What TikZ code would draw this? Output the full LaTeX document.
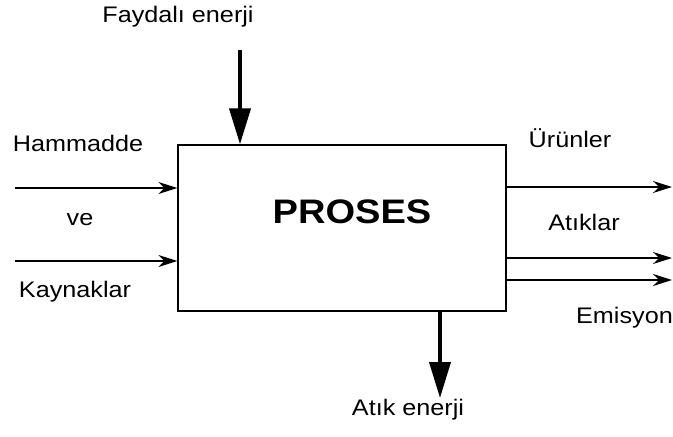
\documentclass[tikz,border=0pt]{standalone}
\usepackage{fontspec}
\setmainfont{Liberation Sans}[FakeStretch=1.12]
\usetikzlibrary{arrows.meta}

\begin{document}
\begin{tikzpicture}[x=1pt, y=-1pt,
        etiket/.style={font=\fontsize{22.5}{26}\selectfont, inner sep=0pt},
        kutu/.style={rectangle, draw, line width=1.3pt, minimum width=328pt, minimum height=166pt},
        akis/.style={line width=1.3pt, -{Stealth[length=19pt, width=12pt]}},
        enerji/.style={line width=3.8pt, -{Triangle[length=36pt, width=21pt]}}
    ]
        \useasboundingbox (0,0) rectangle (673,437);

        % Process box
        \node[kutu] (proses) at (342,228) {};
        \node[font=\fontsize{34}{38}\selectfont\bfseries] (baslik) at (352,212) {PROSES};

        % Labels
        \node[etiket] (faydali) at (178,17) {Faydalı enerji};
        \node[etiket] (hammadde) at (78,143) {Hammadde};
        \node[etiket] (ve) at (80,220) {ve};
        \node[etiket] (kaynaklar) at (75,292) {Kaynaklar};
        \node[etiket] (urunler) at (570,138) {Ürünler};
        \node[etiket] (atiklar) at (584,222) {Atıklar};
        \node[etiket, anchor=east] (emisyon) at (673,318) {Emisyon};
        \node[etiket] (atikenerji) at (408,410) {Atık enerji};

        % Free ends
        \coordinate (fayUst) at (240,50);
        \coordinate (atikAlt) at (440,398);
        \coordinate (hamSol) at (15,188);
        \coordinate (kaySol) at (15,261);
        \coordinate (urunSag) at (672,187);
        \coordinate (atikSag) at (672,258);
        \coordinate (emisSag) at (672,280);

        % Energy arrows
        \draw[enerji] (fayUst) -- (fayUst |- proses.north);
        \draw[enerji] (proses.south -| atikAlt) -- (atikAlt);

        % Inputs
        \draw[akis] (hamSol) -- (hamSol -| proses.west);
        \draw[akis] (kaySol) -- (kaySol -| proses.west);

        % Outputs
        \draw[akis] (urunSag -| proses.east) -- (urunSag);
        \draw[akis] (atikSag -| proses.east) -- (atikSag);
        \draw[akis, line width=2.2pt] (emisSag -| proses.east) -- (emisSag);
    \end{tikzpicture}
\end{document}
